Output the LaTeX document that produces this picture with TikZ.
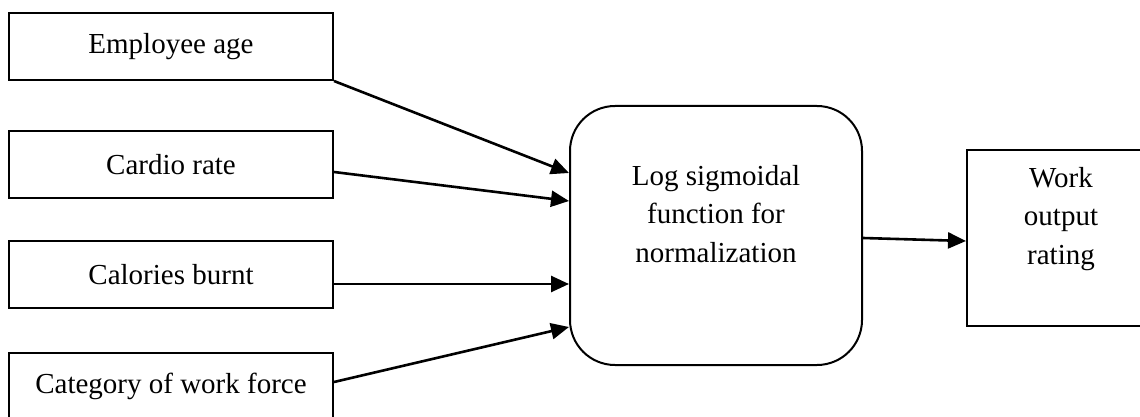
\documentclass[tikz,border=0pt]{standalone}
\usepackage{fontspec}
\setmainfont{Liberation Serif}
\usetikzlibrary{arrows.meta}
\begin{document}
\begin{tikzpicture}[x=1pt,y=-1pt,
  inbox/.style={draw,line width=2pt,minimum width=324pt,minimum height=67pt,inner sep=0pt,
    font=\fontsize{29}{38.5}\selectfont},
  bigbox/.style={draw,line width=2pt,inner sep=0pt},
  boxtext/.style={inner sep=0pt,align=center,anchor=north,font=\fontsize{29}{38.5}\selectfont},
  link/.style={line width=2.6pt,-{Triangle[length=18pt,width=16pt]}}]
\useasboundingbox (0,0) rectangle (1140,417);
\clip (0,0) rectangle (1140,417);
\fill[white] (0,0) rectangle (1140,417);

% input measurements
\node[inbox] (age) at (171,46.5) {Employee age};
\node[inbox] (cardio) at (171,164.5) {Cardio rate};
\node[inbox] (cal) at (171,274.5) {Calories burnt};
\node[inbox] (cat) at (171,386.5) {Category of work force};

% normalization stage
\node[bigbox,rounded corners=45pt,minimum width=292pt,minimum height=259pt] (norm) at (716,235.5) {};
\node[boxtext] (normtext) at (716,165) {Log sigmoidal\\function for\\normalization};

% result
\node[bigbox,minimum width=188pt,minimum height=176pt] (out) at (1061,238) {};
\node[boxtext] (outtext) at (1061,167) {Work\\output\\rating};

% connectors
\draw[link] (age.south east) -- (norm.west |- 0,173);
\draw[link] (cardio.east |- 0,172) -- (norm.west |- 0,201);
\draw[link] (cal.east |- 0,284) -- (norm.west |- 0,284);
\draw[link] (cat.east |- 0,382) -- (norm.west |- 0,327);
\draw[link] (norm.east |- 0,238) -- (out.west |- 0,241);
\end{tikzpicture}
\end{document}
